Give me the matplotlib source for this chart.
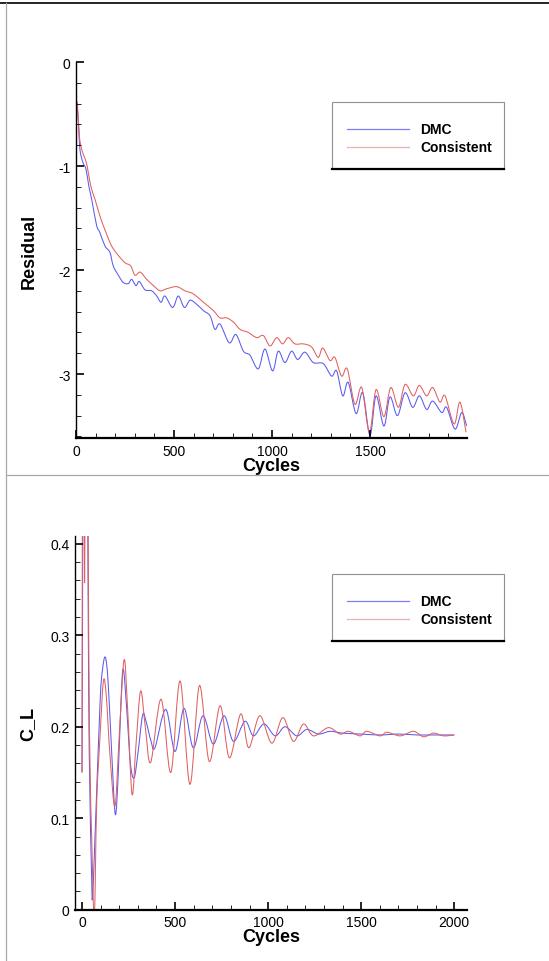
import numpy as np
import matplotlib
matplotlib.use('Agg')
import matplotlib.pyplot as plt
from matplotlib.lines import Line2D
from matplotlib.patches import Rectangle, PathPatch
from matplotlib.path import Path

plt.rcParams['font.family'] = ['Liberation Sans', 'DejaVu Sans']
plt.rcParams['axes.unicode_minus'] = False

# residual history
res_dmc_x = [0, 7, 14, 20, 34, 51, 65, 80, 105, 122, 148, 173, 190, 216, 241, 267, 284, 306, 323,
             352, 386, 412, 434, 454, 493, 522, 553, 582, 616, 650, 684, 709, 735, 782, 816, 854,
             888, 930, 964, 1003, 1032, 1066, 1100, 1131, 1168, 1211, 1262, 1304, 1330, 1361, 1389,
             1429, 1463, 1500, 1531, 1571, 1602, 1640, 1679, 1718, 1752, 1789, 1820, 1866, 1891,
             1934, 1968, 1993]
res_dmc_y = [-0.34, -0.45, -0.64, -0.84, -0.96, -1.03, -1.19, -1.32, -1.57, -1.64, -1.77, -1.83,
             -1.96, -2.05, -2.12, -2.13, -2.09, -2.15, -2.11, -2.19, -2.20, -2.25, -2.31, -2.25,
             -2.36, -2.25, -2.36, -2.29, -2.33, -2.39, -2.44, -2.57, -2.52, -2.70, -2.62, -2.78,
             -2.82, -2.95, -2.76, -2.97, -2.78, -2.89, -2.78, -2.86, -2.79, -2.89, -2.90, -3.02,
             -2.97, -3.21, -3.08, -3.38, -3.18, -3.59, -3.21, -3.50, -3.22, -3.40, -3.18, -3.32,
             -3.21, -3.34, -3.26, -3.37, -3.32, -3.53, -3.37, -3.50]

res_con_x = [0, 8, 17, 29, 46, 58, 75, 97, 122, 153, 182, 216, 250, 279, 301, 327, 361, 395, 429,
             463, 514, 556, 599, 650, 701, 735, 769, 803, 837, 879, 922, 956, 990, 1024, 1054,
             1083, 1117, 1160, 1202, 1236, 1259, 1296, 1321, 1355, 1384, 1423, 1458, 1497, 1531,
             1571, 1606, 1645, 1679, 1721, 1752, 1789, 1820, 1857, 1883, 1929, 1959, 1990]
res_con_y = [-0.36, -0.42, -0.71, -0.84, -0.93, -1.01, -1.19, -1.32, -1.48, -1.64, -1.77, -1.86,
             -1.93, -1.96, -2.05, -2.02, -2.09, -2.15, -2.20, -2.18, -2.16, -2.20, -2.23, -2.31,
             -2.39, -2.46, -2.46, -2.50, -2.57, -2.60, -2.65, -2.63, -2.73, -2.65, -2.71, -2.65,
             -2.71, -2.71, -2.74, -2.84, -2.75, -2.87, -2.84, -3.02, -2.95, -3.29, -3.13, -3.56,
             -3.15, -3.41, -3.13, -3.32, -3.10, -3.21, -3.11, -3.21, -3.13, -3.27, -3.21, -3.48,
             -3.27, -3.56]

# lift coefficient history
cl_dmc_x = [0, 12, 28, 33, 39, 52, 57, 70, 97, 110, 125, 140, 160, 179, 195, 210, 222, 240, 260,
            280, 300, 326, 345, 370, 392, 450, 500, 548, 598, 650, 706, 763, 814, 876, 921, 978,
            1038, 1091, 1154, 1208, 1271, 1333, 1400, 1500, 1600, 1700, 1800, 1900, 2000]
cl_dmc_y = [0.15, 0.75, 0.50, 0.34, 0.17, 0.033, 0.015, 0.08, 0.226, 0.262, 0.276, 0.25, 0.17,
            0.104, 0.15, 0.23, 0.263, 0.22, 0.16, 0.144, 0.17, 0.213, 0.205, 0.185, 0.177, 0.219,
            0.173, 0.22, 0.177, 0.212, 0.181, 0.212, 0.184, 0.206, 0.19, 0.203, 0.19, 0.20, 0.19,
            0.197, 0.192, 0.195, 0.193, 0.192, 0.191, 0.192, 0.191, 0.191, 0.191]

cl_con_x = [0, 6, 14, 22, 36, 43, 52, 66, 79, 97, 115, 130, 150, 177, 200, 226, 245, 269, 290,
            315, 340, 369, 425, 477, 527, 580, 631, 684, 742, 792, 853, 896, 955, 1020, 1079,
            1136, 1190, 1244, 1324, 1387, 1432, 1494, 1530, 1602, 1638, 1710, 1781, 1835, 1889,
            1943, 2000]
cl_con_y = [0.15, 0.8, 0.357, 0.8, 0.30, 0.16, 0.08, -0.01, 0.117, 0.19, 0.25, 0.235, 0.17,
            0.113, 0.19, 0.273, 0.22, 0.126, 0.18, 0.239, 0.20, 0.161, 0.23, 0.15, 0.25, 0.137,
            0.245, 0.162, 0.223, 0.166, 0.214, 0.177, 0.212, 0.182, 0.21, 0.184, 0.203, 0.19,
            0.199, 0.192, 0.195, 0.19, 0.195, 0.19, 0.194, 0.19, 0.195, 0.189, 0.193, 0.19, 0.191]

labels = ['DMC', 'Consistent']
blue = '#5a5af0'
red = '#e06060'

W, H = 549, 962
fig = plt.figure(figsize=(W / 100, H / 100), dpi=100)


def fx(px):
    return px / W


def fy(py):
    return 1 - py / H


def smooth_line(ax, xs, ys, color):
    # draw the read points joined by a smooth bezier curve (catmull-rom style)
    p = np.column_stack([xs, ys]).astype(float)
    ext = np.vstack([p[0], p, p[-1]])
    verts = [p[0]]
    codes = [Path.MOVETO]
    for i in range(1, len(ext) - 2):
        c1 = ext[i] + (ext[i + 1] - ext[i - 1]) / 6
        c2 = ext[i + 1] - (ext[i + 2] - ext[i]) / 6
        verts += [c1, c2, ext[i + 1]]
        codes += [Path.CURVE4] * 3
    ax.add_patch(PathPatch(Path(verts, codes), fill=False, edgecolor=color, lw=0.75))


# frame lines from the screenshot
fig.add_artist(Line2D([0, 1], [fy(4), fy(4)], color='black', lw=1.2))
fig.add_artist(Line2D([fx(6), fx(6)], [0, fy(4)], color='#a8a8a8', lw=0.9))
fig.add_artist(Line2D([fx(6), 1], [fy(476), fy(476)], color='#a8a8a8', lw=0.9))


def style_axes(ax):
    for s in ['top', 'right']:
        ax.spines[s].set_visible(False)
    ax.spines['left'].set_linewidth(1.0)
    ax.spines['bottom'].set_linewidth(1.6)
    ax.tick_params(which='major', direction='in', length=6, width=1.2, labelsize=10, pad=4)
    ax.tick_params(which='minor', direction='in', length=3.5, width=0.6)
    ax.tick_params(axis='x', which='major', pad=4)


def legend_box(top):
    fig.add_artist(Rectangle((fx(332), fy(top + 67)), fx(172), 67 / H, transform=fig.transFigure,
                             facecolor='white', edgecolor='#909090', lw=0.8))
    fig.add_artist(Line2D([fx(332), fx(504)], [fy(top + 67), fy(top + 67)], color='black', lw=1.6))
    for k, (lab, col) in enumerate(zip(labels, ['#7c7cf8', '#e4b4b4'])):
        yy = fy(top + 27 + 18 * k)
        fig.add_artist(Line2D([fx(347), fx(409)], [yy, yy], color=col, lw=0.9))
        fig.text(fx(420), yy, lab, fontsize=10, fontweight='bold', va='center', ha='left')


# top panel: residual
ax1 = fig.add_axes([fx(76), fy(439), fx(467 - 76), (439 - 63) / H])
smooth_line(ax1, res_dmc_x, res_dmc_y, blue)
smooth_line(ax1, res_con_x, res_con_y, red)
ax1.set_xlim(0, 1995)
ax1.set_ylim(-3.615, 0)
ax1.set_xticks([0, 500, 1000, 1500])
ax1.set_xticks(np.arange(0, 2000, 100), minor=True)
ax1.set_yticks([0, -1, -2, -3])
ax1.set_yticks(np.arange(0, -3.7, -0.2), minor=True)
style_axes(ax1)
ax1.set_xlabel('Cycles', fontsize=13, fontweight='bold')
ax1.set_ylabel('Residual', fontsize=13, fontweight='bold')
ax1.xaxis.set_label_coords(0.5, -0.05)
ax1.yaxis.set_label_coords(-0.098, 0.5)
legend_box(103)

# bottom panel: lift coefficient
ax2 = fig.add_axes([fx(75), fy(910.7), fx(466.7 - 75), (910.7 - 536.7) / H])
smooth_line(ax2, cl_dmc_x, cl_dmc_y, blue)
smooth_line(ax2, cl_con_x, cl_con_y, red)
ax2.set_xlim(-37.6, 2067)
ax2.set_ylim(0, 0.4088)
ax2.set_xticks([0, 500, 1000, 1500, 2000])
ax2.set_xticks(np.arange(0, 2001, 100), minor=True)
ax2.set_yticks([0, 0.1, 0.2, 0.3, 0.4])
ax2.set_yticklabels(['0', '0.1', '0.2', '0.3', '0.4'])
ax2.set_yticks(np.arange(0, 0.41, 0.02), minor=True)
style_axes(ax2)
ax2.set_xlabel('Cycles', fontsize=13, fontweight='bold')
ax2.set_ylabel('C_L', fontsize=13, fontweight='bold')
ax2.xaxis.set_label_coords(0.5, -0.05)
ax2.yaxis.set_label_coords(-0.098, 0.5)
legend_box(575)

fig.savefig('out.png', dpi=100)
